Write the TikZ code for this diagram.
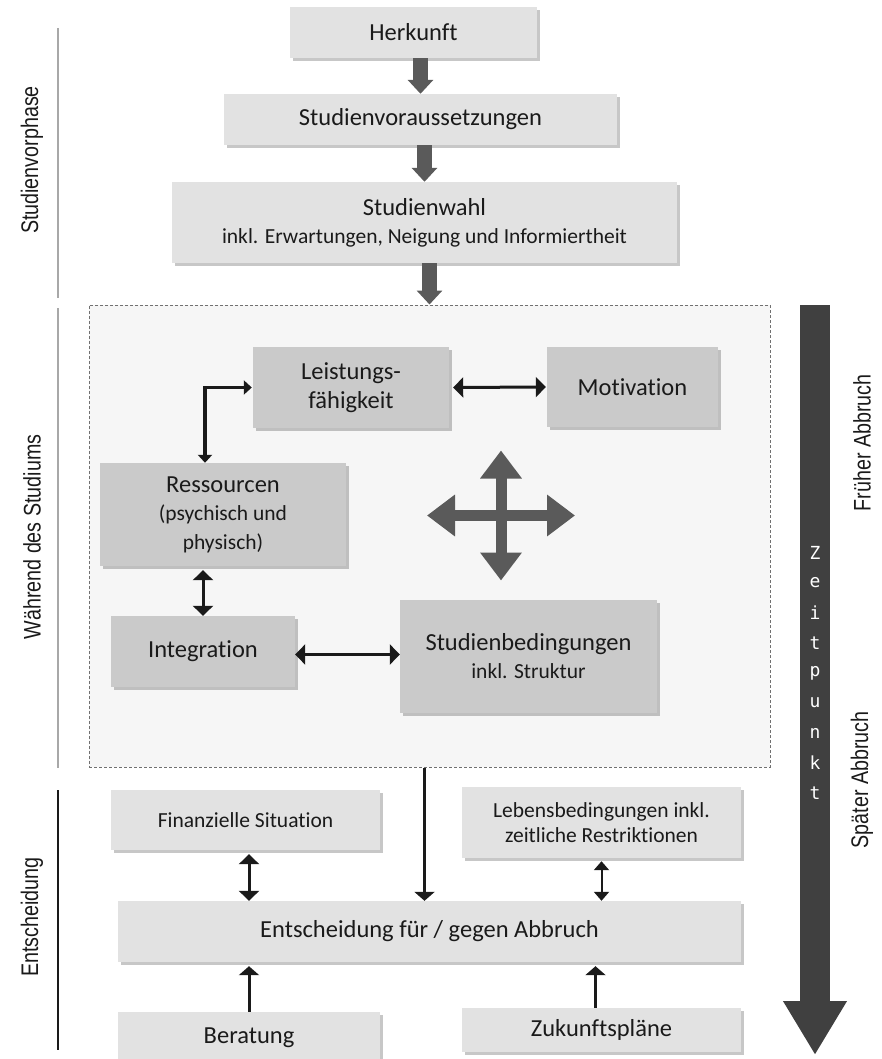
\documentclass[tikz,border=0pt]{standalone}
\usepackage{fontspec}
\setmainfont{Carlito}[Ligatures=NoCommon]
\newfontfamily\schmalschrift[FakeStretch=0.82]{Liberation Sans}
\newfontfamily\monoschrift{DejaVu Sans Mono}
\usetikzlibrary{arrows.meta,shadows}

\definecolor{hellgrau}{HTML}{E2E2E2}
\definecolor{mittelgrau}{HTML}{CACACA}
\definecolor{rahmenfuell}{HTML}{F6F6F6}
\definecolor{rahmenlinie}{HTML}{707070}
\definecolor{pfeilgrau}{HTML}{5A5A5A}
\definecolor{zeitgrau}{HTML}{404040}
\definecolor{textschwarz}{HTML}{1A1A1A}
\definecolor{liniengrau}{HTML}{A8A8A8}

\newcommand\grossschrift{\fontsize{24.5}{29}\selectfont}
\newcommand\kleinschrift{\fontsize{21.5}{25}\selectfont}

\tikzset{
	kasten/.style={fill=hellgrau, inner sep=0pt, align=center, text=textschwarz, font=\grossschrift,
		drop shadow={shadow xshift=2.5pt, shadow yshift=-3pt, fill=black, opacity=0.22}},
	innenkasten/.style={kasten, fill=mittelgrau},
	rahmen/.style={draw=rahmenlinie, fill=rahmenfuell, dash pattern=on 3pt off 2pt, line width=1pt, inner sep=0pt},
	blockpfeil/.style={draw=pfeilgrau, line width=15pt, -{Triangle[width=25pt,length=14pt]}},
	kreuzpfeil/.style={draw=pfeilgrau, line width=11pt, {Triangle[width=40pt,length=28pt]}-{Triangle[width=40pt,length=28pt]}},
	doppelpfeil/.style={draw=textschwarz, line width=3pt, {Triangle[width=20pt,length=10pt]}-{Triangle[width=20pt,length=10pt]}},
	duennpfeil/.style={draw=textschwarz, line width=2pt, {Triangle[width=15pt,length=9pt]}-{Triangle[width=15pt,length=9pt]}},
	winkelpfeil/.style={draw=textschwarz, line width=3.5pt, {Triangle[width=14pt,length=8pt]}-{Triangle[width=14pt,length=8pt]}},
	einfachpfeil/.style={draw=textschwarz, line width=3pt, -{Triangle[width=20pt,length=9pt]}},
	zeitpfeil/.style={draw=zeitgrau, line width=30pt, -{Triangle[width=60pt,length=54pt]}},
	zeitbuchstabe/.style={text=white, font=\monoschrift\fontsize{18}{18}\selectfont, inner sep=0pt},
	phase/.style={text=textschwarz, font=\schmalschrift\fontsize{24}{28}\selectfont, rotate=90, inner sep=0pt},
	phasenlinie/.style={draw=liniengrau, line width=1.2pt}
}

\begin{document}
\begin{tikzpicture}[x=1pt,y=-1pt]
	
	\useasboundingbox (0,0) rectangle (881,1059);
	
	% Studienvorphase
	\node[kasten, minimum width=247, minimum height=51] (herkunft) at (413.5,32.5) {Herkunft};
	\node[kasten, minimum width=393, minimum height=51] (voraus) at (420.5,119.5) {Studienvoraussetzungen};
	\node[kasten, minimum width=505, minimum height=81] (wahl) at (424.5,222.5)
		{Studienwahl\\[-1pt]{\kleinschrift inkl. Erwartungen, Neigung und Informiertheit}};
	
	% Waehrend des Studiums
	\node[rahmen, minimum width=681, minimum height=462] (studium) at (429.5,536) {};
	
	\draw[blockpfeil] (voraus.north |- herkunft.south) -- (voraus.north);
	\draw[blockpfeil] (wahl.north |- voraus.south) -- (wahl.north);
	\draw[blockpfeil] ([xshift=5pt]wahl.south) -- ([xshift=5pt]wahl.south |- studium.north);
	
	\node[innenkasten, minimum width=196, minimum height=81] (leistung) at (351,387.5) {Leistungs-\\fähigkeit};
	\node[innenkasten, minimum width=171, minimum height=80] (motivation) at (632.5,387) {Motivation};
	\node[innenkasten, minimum width=246, minimum height=103] (ressourcen) at (223,514.5)
		{Ressourcen\\[-1pt]{\kleinschrift (psychisch und}\\{\kleinschrift physisch)}};
	\node[innenkasten, minimum width=184, minimum height=71] (integration) at (203,651.5) {Integration};
	\node[innenkasten, minimum width=257, minimum height=113] (bedingungen) at (528.5,656.5)
		{Studienbedingungen\\[-1pt]{\kleinschrift inkl. Struktur}};
	
	\draw[doppelpfeil] ([xshift=4pt]leistung.east) -- ([xshift=-1pt]motivation.west);
	\draw[winkelpfeil] ([xshift=-18pt]ressourcen.north) |- ([xshift=-1pt]leistung.west);
	\draw[doppelpfeil] ([yshift=-4pt]ressourcen.south -| integration.north) -- (integration.north);
	\draw[doppelpfeil] ([yshift=-3pt]integration.east) -- ([yshift=-3pt]integration.east -| bedingungen.west);
	
	\coordinate (kreuz) at (501,515.5);
	\draw[kreuzpfeil] ([xshift=-74pt]kreuz) -- ([xshift=74pt]kreuz);
	\draw[kreuzpfeil] ([yshift=65pt]kreuz) -- ([yshift=-65pt]kreuz);
	
	% Entscheidung
	\node[kasten, font=\kleinschrift, minimum width=269, minimum height=60] (finanzen) at (245.5,820) {Finanzielle Situation};
	\node[kasten, font=\kleinschrift, minimum width=279, minimum height=71] (leben) at (601.5,822.5)
		{Lebensbedingungen inkl.\\zeitliche Restriktionen};
	\node[kasten, minimum width=623, minimum height=61] (entscheidung) at (429.5,931.5) {Entscheidung für / gegen Abbruch};
	\node[kasten, minimum width=262, minimum height=52] (beratung) at (249,1038) {Beratung};
	\node[kasten, minimum width=279, minimum height=44] (zukunft) at (601.5,1030) {Zukunftspläne};
	
	\draw[einfachpfeil] ([xshift=-5pt]studium.south) -- ([xshift=-5pt]entscheidung.north);
	\draw[doppelpfeil] ([yshift=-4pt]finanzen.south -| beratung.north) -- (entscheidung.north -| beratung.north);
	\draw[duennpfeil] ([yshift=-3pt]leben.south) -- (leben.south |- entscheidung.north);
	\draw[einfachpfeil] (beratung.north) -- ([yshift=-4pt]entscheidung.south -| beratung.north);
	\draw[einfachpfeil] ([xshift=-6pt]zukunft.north) -- ([xshift=-6pt,yshift=-4pt]entscheidung.south -| zukunft.north);
	
	% Zeitpunkt
	\coordinate (zeitanfang) at (815,305);
	\coordinate (zeitende) at (815,1055);
	\draw[zeitpfeil] (zeitanfang) -- (zeitende);
	\foreach \buchstabe [count=\i] in {Z,e,i,t,p,u,n,k,t}
	\node[zeitbuchstabe] (zeit\i) at (815,{553+30*(\i-1)}) {\buchstabe};
	
	\node[phase] (frueh) at (862,443) {Früher Abbruch};
	\node[phase] (spaet) at (862,780) {Später Abbruch};
	
	% Phasen links
	\node[phase] (vorphase) at (32,160) {Studienvorphase};
	\node[phase] (waehrend) at (32,537) {Während des Studiums};
	\node[phase] (entsch) at (32,917) {Entscheidung};
	\draw[phasenlinie] (58,28) -- (58,298);
	\draw[phasenlinie] (58,308) -- (58,768);
	\draw[phasenlinie, draw=textschwarz] (58,790) -- (58,1050);
	
\end{tikzpicture}
\end{document}
